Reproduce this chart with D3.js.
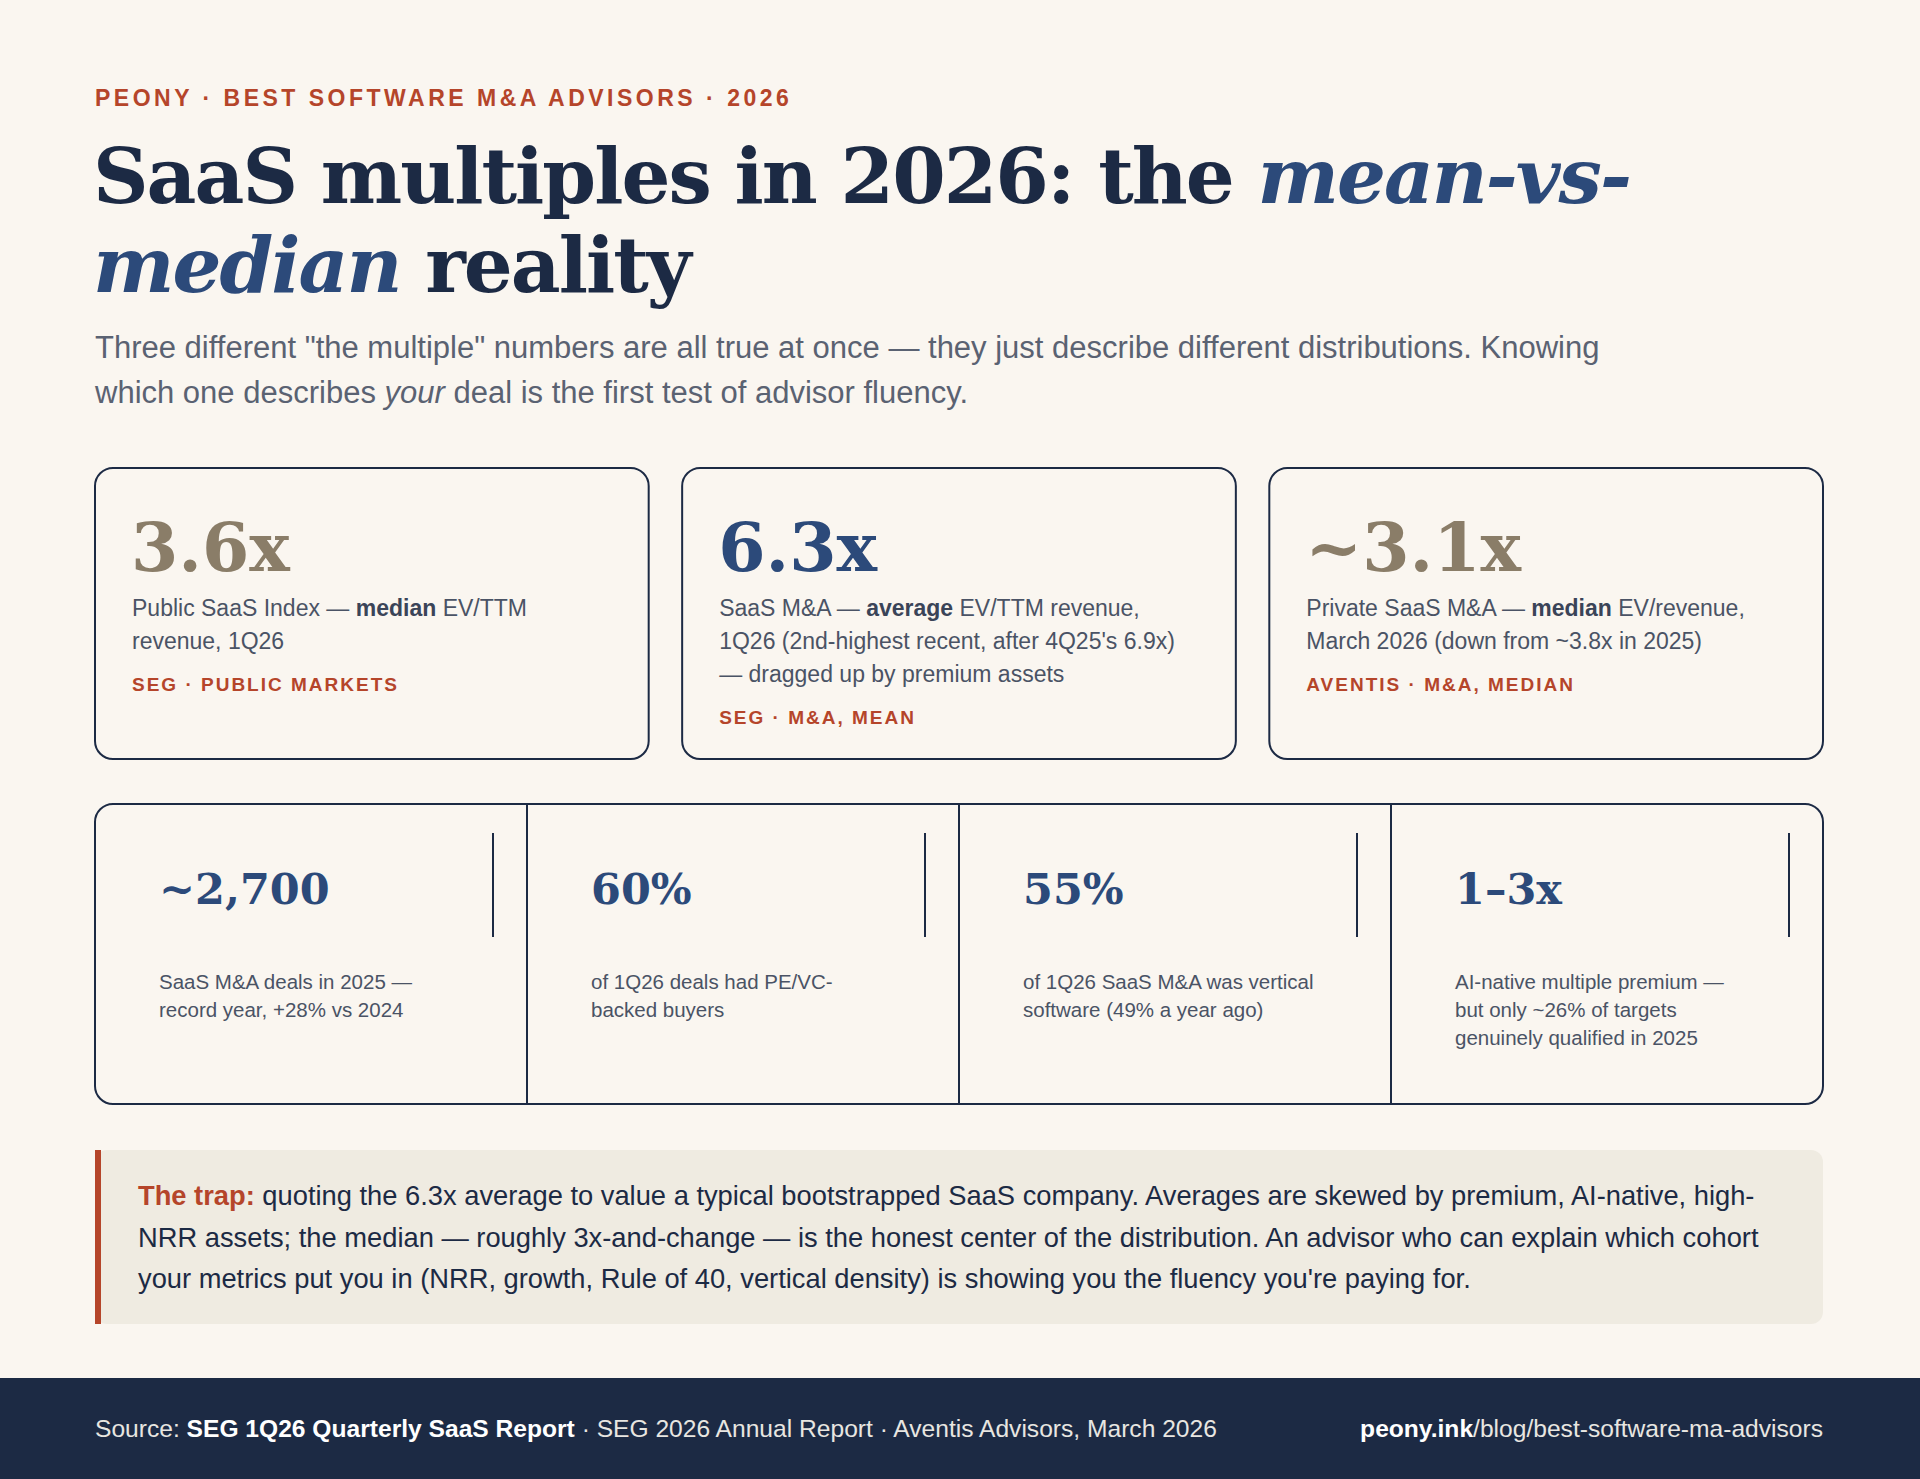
<!DOCTYPE html>
<meta charset="utf-8">
<style>
body { margin: 0; background: #faf6f0; }
svg { display: block; }
.sans { font-family: "Liberation Sans", Arial, Helvetica, sans-serif; }
.serif { font-family: "DejaVu Serif", Georgia, serif; }
.tag { font-family: "Liberation Sans", Arial, sans-serif; font-weight: bold; letter-spacing: 2px; fill: #b5452a; }
</style>
<body>
<svg id="chart" width="1920" height="1479"></svg>
<script src="https://cdn.jsdelivr.net/npm/d3@7"></script>
<script>
// headline cards
var cardValues = ["3.6x", "6.3x", "~3.1x"];
var cardColors = ["#8a7d68", "#2c4a7a", "#8a7d68"];
var cardLines = [
  [["Public SaaS Index — ", ""], ["median", "b"], [" EV/TTM", ""], ["\n"], ["revenue, 1Q26", ""]],
  [["SaaS M&A — ", ""], ["average", "b"], [" EV/TTM revenue,", ""], ["\n"], ["1Q26 (2nd-highest recent, after 4Q25's 6.9x)", ""], ["\n"], ["— dragged up by premium assets", ""]],
  [["Private SaaS M&A — ", ""], ["median", "b"], [" EV/revenue,", ""], ["\n"], ["March 2026 (down from ~3.8x in 2025)", ""]]
];
var cardTags = ["SEG · PUBLIC MARKETS", "SEG · M&A, MEAN", "AVENTIS · M&A, MEDIAN"];

// stat strip
var statValues = ["~2,700", "60%", "55%", "1–3x"];
var statLines = [
  ["SaaS M&A deals in 2025 —", "record year, +28% vs 2024"],
  ["of 1Q26 deals had PE/VC-", "backed buyers"],
  ["of 1Q26 SaaS M&A was vertical", "software (49% a year ago)"],
  ["AI-native multiple premium —", "but only ~26% of targets", "genuinely qualified in 2025"]
];

var trapLines = [
  "quoting the 6.3x average to value a typical bootstrapped SaaS company. Averages are skewed by premium, AI-native, high-",
  "NRR assets; the median — roughly 3x-and-change — is the honest center of the distribution. An advisor who can explain which cohort",
  "your metrics put you in (NRR, growth, Rule of 40, vertical density) is showing you the fluency you're paying for."
];

var svg = d3.select("#chart");
var navy = "#1c2a44";

svg.append("text").attr("class", "tag").attr("x", 95).attr("y", 106)
  .style("font-size", "23px").style("letter-spacing", "3.5px")
  .text("PEONY · BEST SOFTWARE M&A ADVISORS · 2026");

var t1 = svg.append("text").attr("class", "serif").attr("x", 93).attr("y", 203)
  .style("font-size", "77px").style("font-weight", "bold").attr("fill", navy).style("letter-spacing", "-2px");
t1.append("tspan").text("SaaS multiples in 2026: the ");
t1.append("tspan").attr("fill", "#2c4a7a").style("font-style", "italic").text("mean-vs-");
var t2 = svg.append("text").attr("class", "serif").attr("x", 93).attr("y", 292)
  .style("font-size", "77px").style("font-weight", "bold").attr("fill", navy).style("letter-spacing", "-2px");
t2.append("tspan").attr("fill", "#2c4a7a").style("font-style", "italic").text("median");
t2.append("tspan").text(" reality");

var sub = svg.append("g").attr("class", "sans").attr("fill", "#5a6272").style("font-size", "31px");
sub.append("text").attr("x", 95).attr("y", 358)
  .text("Three different \"the multiple\" numbers are all true at once — they just describe different distributions. Knowing");
var s2 = sub.append("text").attr("x", 95).attr("y", 403);
s2.append("tspan").text("which one describes ");
s2.append("tspan").style("font-style", "italic").text("your");
s2.append("tspan").text(" deal is the first test of advisor fluency.");

// cards row
var cx = d3.scaleBand().domain(d3.range(3)).range([95, 1823]).paddingInner(0.057).paddingOuter(0);
var cards = svg.selectAll("g.card").data(cardValues).enter().append("g")
  .attr("transform", function(d, i) { return "translate(" + cx(i) + ",468)"; });
cards.append("rect").attr("width", cx.bandwidth()).attr("height", 291).attr("rx", 18)
  .attr("fill", "#faf6f0").attr("stroke", navy).attr("stroke-width", 2);
cards.append("text").attr("class", "serif").attr("x", 36).attr("y", 103)
  .style("font-size", "68px").style("font-weight", "bold")
  .attr("fill", function(d, i) { return cardColors[i]; }).text(function(d) { return d; });
cards.each(function(d, i) {
  var g = d3.select(this), line = 0, txt = null;
  cardLines[i].forEach(function(p) {
    if (p[0] === "\n") { line++; txt = null; return; }
    if (!txt) txt = g.append("text").attr("class", "sans").attr("x", 37).attr("y", 148 + line * 33)
      .style("font-size", "23px").attr("fill", "#4a5365");
    txt.append("tspan").style("font-weight", p[1] === "b" ? "bold" : "normal")
      .attr("fill", p[1] === "b" ? "#3a4458" : null).text(p[0]);
  });
  g.append("text").attr("class", "tag").attr("x", 37).attr("y", 190 + line * 33)
    .style("font-size", "19px").text(cardTags[i]);
});

// stat strip
var sx = d3.scaleBand().domain(d3.range(4)).range([95, 1823]);
svg.append("rect").attr("x", 95).attr("y", 804).attr("width", 1728).attr("height", 300).attr("rx", 18)
  .attr("fill", "#faf6f0").attr("stroke", navy).attr("stroke-width", 2);
var stats = svg.selectAll("g.stat").data(statValues).enter().append("g")
  .attr("transform", function(d, i) { return "translate(" + sx(i) + ",804)"; });
stats.filter(function(d, i) { return i > 0; }).append("line")
  .attr("y1", 0).attr("y2", 300).attr("stroke", navy).attr("stroke-width", 2);
stats.append("line").attr("x1", sx.bandwidth() - 34).attr("x2", sx.bandwidth() - 34)
  .attr("y1", 29).attr("y2", 133).attr("stroke", navy).attr("stroke-width", 2);
stats.append("text").attr("class", "serif").attr("x", 64).attr("y", 100)
  .style("font-size", "43px").style("font-weight", "bold").attr("fill", "#2c4a7a")
  .text(function(d) { return d; });
stats.each(function(d, i) {
  d3.select(this).selectAll("text.l").data(statLines[i]).enter().append("text")
    .attr("class", "sans l").attr("x", 64).attr("y", function(l, j) { return 185 + j * 28; })
    .style("font-size", "20.5px").attr("fill", "#4a5365").text(function(l) { return l; });
});

// trap box
svg.append("rect").attr("x", 95).attr("y", 1150).attr("width", 1728).attr("height", 174).attr("rx", 12)
  .attr("fill", "#efebe1");
svg.append("rect").attr("x", 95).attr("y", 1150).attr("width", 6).attr("height", 174).attr("fill", "#b5452a");
svg.selectAll("text.trap").data(trapLines).enter().append("text")
  .attr("class", "sans trap").attr("x", 138).attr("y", function(d, i) { return 1205 + i * 41.5; })
  .style("font-size", "27.3px").attr("fill", navy)
  .each(function(d, i) {
    var t = d3.select(this);
    if (i === 0) t.append("tspan").style("font-weight", "bold").attr("fill", "#b5452a").text("The trap: ");
    t.append("tspan").text(d);
  });

// footer
svg.append("rect").attr("x", 0).attr("y", 1378).attr("width", 1920).attr("height", 101).attr("fill", navy);
var f = svg.append("text").attr("class", "sans").attr("x", 95).attr("y", 1437)
  .style("font-size", "24.6px").attr("fill", "#e8e6e1");
f.append("tspan").text("Source: ");
f.append("tspan").style("font-weight", "bold").attr("fill", "#fff").text("SEG 1Q26 Quarterly SaaS Report");
f.append("tspan").text(" · SEG 2026 Annual Report · Aventis Advisors, March 2026");
var fr = svg.append("text").attr("class", "sans").attr("x", 1823).attr("y", 1437).attr("text-anchor", "end")
  .style("font-size", "24.6px").attr("fill", "#e8e6e1");
fr.append("tspan").style("font-weight", "bold").attr("fill", "#fff").text("peony.ink");
fr.append("tspan").text("/blog/best-software-ma-advisors");
</script>
</body>
